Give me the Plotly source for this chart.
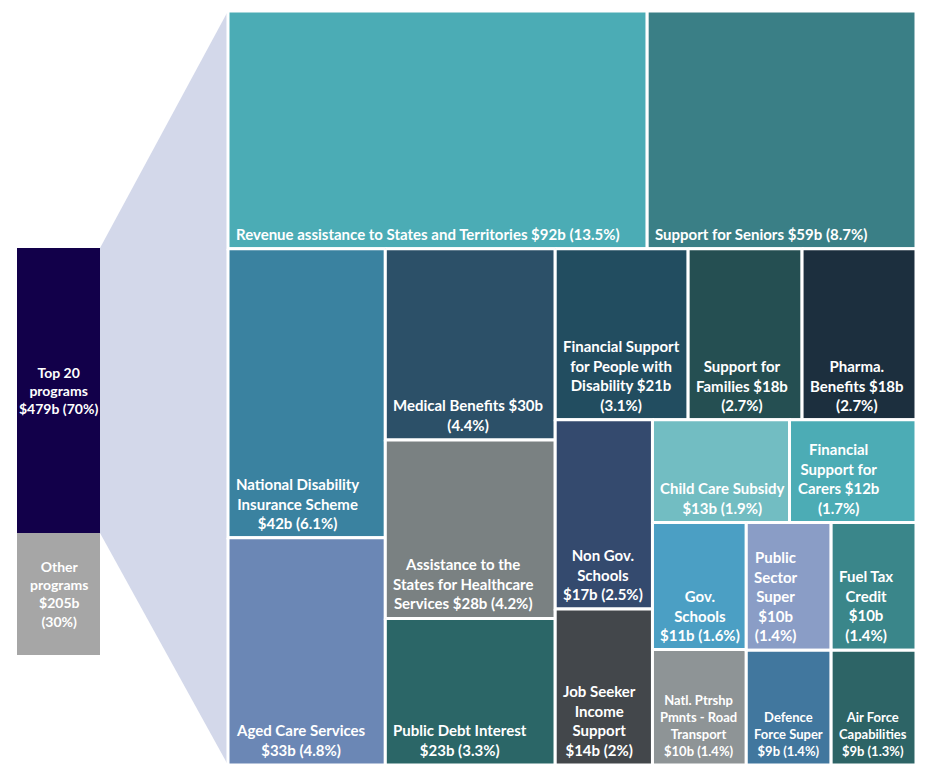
import plotly.graph_objects as go

# ---------------- data ----------------
programs = [
    "Revenue assistance to States and Territories", "Support for Seniors",
    "National Disability Insurance Scheme", "Aged Care Services",
    "Medical Benefits", "Assistance to the States for Healthcare Services",
    "Public Debt Interest", "Financial Support for People with Disability",
    "Support for Families", "Pharma. Benefits", "Non Gov. Schools",
    "Job Seeker Income Support", "Child Care Subsidy",
    "Financial Support for Carers", "Gov. Schools",
    "Natl. Ptrshp Pmnts - Road Transport", "Public Sector Super",
    "Fuel Tax Credit", "Defence Force Super", "Air Force Capabilities",
]
values = [92, 59, 42, 33, 30, 28, 23, 21, 18, 18, 17, 14, 13, 12, 11, 10, 10, 10, 9, 9]
pcts = ["13.5%", "8.7%", "6.1%", "4.8%", "4.4%", "4.2%", "3.3%", "3.1%", "2.7%", "2.7%",
        "2.5%", "2%", "1.9%", "1.7%", "1.6%", "1.4%", "1.4%", "1.4%", "1.4%", "1.3%"]
cell_labels = [
    "Revenue assistance to States and Territories $92b (13.5%)",
    "Support for Seniors $59b (8.7%)",
    "National Disability<br>Insurance Scheme<br>$42b (6.1%)",
    "Aged Care Services<br>$33b (4.8%)",
    "Medical Benefits $30b<br>(4.4%)",
    "Assistance to the<br>States for Healthcare<br>Services $28b (4.2%)",
    "Public Debt Interest<br>$23b (3.3%)",
    "Financial Support<br>for People with<br>Disability $21b<br>(3.1%)",
    "Support for<br>Families $18b<br>(2.7%)",
    "Pharma.<br>Benefits $18b<br>(2.7%)",
    "Non Gov.<br>Schools<br>$17b (2.5%)",
    "Job Seeker<br>Income<br>Support<br>$14b (2%)",
    "Child Care Subsidy<br>$13b (1.9%)",
    "Financial<br>Support for<br>Carers $12b<br>(1.7%)",
    "Gov.<br>Schools<br>$11b (1.6%)",
    "Natl. Ptrshp<br>Pmnts - Road<br>Transport<br>$10b (1.4%)",
    "Public<br>Sector<br>Super<br>$10b<br>(1.4%)",
    "Fuel Tax<br>Credit<br>$10b<br>(1.4%)",
    "Defence<br>Force Super<br>$9b (1.4%)",
    "Air Force<br>Capabilities<br>$9b (1.3%)",
]
summary_names = ["Top 20 programs", "Other programs"]
summary_values = [479, 205]
summary_labels = ["Top 20<br>programs<br>$479b (70%)", "Other<br>programs<br>$205b<br>(30%)"]

# ---------------- style / layout ----------------
W, H = 928, 777
FONT = "Lato, 'Noto Sans', sans-serif"
colors = ["#4BACB5", "#3A7F86", "#3A82A0", "#6B87B5", "#2C5068", "#7A8182", "#2B6667",
          "#224D60", "#254F52", "#1C2F3E", "#344A6E", "#43474B", "#72BDC2", "#4CACB5",
          "#4B9FC4", "#8E9496", "#8A9DC6", "#3A868A", "#41779E", "#2D6466"]
label_sizes = [15] * 20
for i in (15, 18, 19):
    label_sizes[i] = 13
strip_sizes = [2, 2, 3, 3, 2, 2, 2, 2, 2]
strip_dirs = ["row", "col", "col", "row", "col", "row", "col", "row", "row"]
TM = (228, 11, 916, 765)          # treemap box (x0, y0, x1, y1) in page pixels
BAR_X = (17, 100)
BAR_Y = (655, 248)                # bottom, top in page pixels
summary_colors = ["#12004A", "#A6A6A6"]


def strip_layout(vals, sizes, dirs, box):
    x0, y0, x1, y1 = box
    rects, i, remaining = [], 0, float(sum(vals))
    for n, d in zip(sizes, dirs):
        group = vals[i:i + n]
        s = float(sum(group))
        w, h = x1 - x0, y1 - y0
        if d == "row":
            hh = h * s / remaining
            cx = x0
            for v in group:
                ww = w * v / s
                rects.append((cx, y0, cx + ww, y0 + hh))
                cx += ww
            y0 += hh
        else:
            ww = w * s / remaining
            cy = y0
            for v in group:
                hh = h * v / s
                rects.append((x0, cy, x0 + ww, cy + hh))
                cy += hh
            x0 += ww
        remaining -= s
        i += n
    return rects


rects = strip_layout(values, strip_sizes, strip_dirs, TM)

fig = go.Figure()

# connector (funnel) from the "Top 20" segment to the treemap
total = sum(summary_values)
scale = (BAR_Y[0] - BAR_Y[1]) / total
top20_top = BAR_Y[0] - total * scale
top20_bot = BAR_Y[0] - summary_values[1] * scale
fig.add_trace(go.Scatter(
    x=[BAR_X[1], TM[0], TM[0], BAR_X[1], BAR_X[1]],
    y=[top20_top, TM[1], TM[3], top20_bot, top20_top],
    fill="toself", fillcolor="#D3D8EA", mode="lines", line=dict(width=0),
    hoverinfo="skip", showlegend=False, xaxis="x", yaxis="y"))

annotations = []
for (x0, y0, x1, y1), name, v, p, lab, c, fs in zip(rects, programs, values, pcts,
                                                     cell_labels, colors, label_sizes):
    fig.add_trace(go.Scatter(
        x=[x0, x1, x1, x0, x0], y=[y0, y0, y1, y1, y0],
        fill="toself", fillcolor=c, mode="lines",
        line=dict(color="white", width=3),
        name=name, hoveron="fills",
        text=f"{name}: ${v}b ({p})", hoverinfo="text",
        showlegend=False, xaxis="x", yaxis="y"))
    annotations.append(dict(
        x=x0 + 6, y=y1 - 4, xref="x", yref="y", xanchor="left", yanchor="bottom",
        text=lab, showarrow=False, align="center",
        font=dict(family=FONT, size=fs, color="white", weight="bold")))

# stacked bar: top 20 vs other
for name, v, c in zip(summary_names[::-1], summary_values[::-1], summary_colors[::-1]):
    fig.add_trace(go.Bar(
        x=[0], y=[v], name=name, marker=dict(color=c, line=dict(width=0)),
        width=1, xaxis="x2", yaxis="y2", showlegend=False, hoverinfo="y+name"))

base = 0
for lab, v in zip(summary_labels[::-1], summary_values[::-1]):
    annotations.append(dict(
        x=0, y=base + v / 2, xref="x2", yref="y2", text=lab, showarrow=False,
        align="center", font=dict(family=FONT, size=14, color="white", weight="bold")))
    base += v

fig.update_layout(
    width=W, height=H, margin=dict(l=0, r=0, t=0, b=0),
    paper_bgcolor="white", plot_bgcolor="white", barmode="stack",
    xaxis=dict(range=[0, W], domain=[0, 1], visible=False, fixedrange=True),
    yaxis=dict(range=[H, 0], domain=[0, 1], visible=False, fixedrange=True),
    xaxis2=dict(range=[-0.5, 0.5], domain=[BAR_X[0] / W, BAR_X[1] / W],
                visible=False, anchor="y2", fixedrange=True),
    yaxis2=dict(range=[0, total], domain=[(H - BAR_Y[0]) / H, (H - BAR_Y[1]) / H],
                visible=False, anchor="x2", fixedrange=True),
    annotations=annotations,
    showlegend=False,
)

fig.write_html("out.html", config={"displayModeBar": False},
               post_script="document.body.style.margin='0';")
